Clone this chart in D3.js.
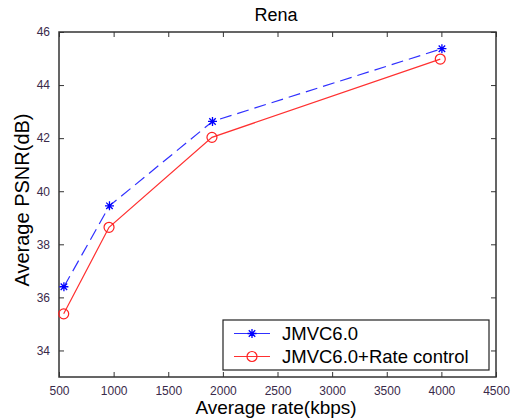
<!DOCTYPE html>
<html lang="en">
<head>
<meta charset="utf-8"/>
<script src="https://d3js.org/d3.v7.min.js"></script>
<style>
  body { margin: 0; background: #fff; }
  text { font-family: "Liberation Sans", Arial, sans-serif; }
</style>
</head>
<body>
<script>
    // Data
    var seriesNames = ["JMVC6.0", "JMVC6.0+Rate control"];
    var rateJMVC = [545, 962, 1905, 4005];
    var psnrJMVC = [36.4, 39.45, 42.63, 45.37];
    var rateRC = [543, 958, 1900, 3990];
    var psnrRC = [35.38, 38.64, 42.03, 44.98];
    var xTicks = [500, 1000, 1500, 2000, 2500, 3000, 3500, 4000, 4500];
    var yTicks = [34, 36, 38, 40, 42, 44, 46];

    var width = 516, height = 418;
    var margin = {top: 32, right: 20, bottom: 41, left: 59};

    var svg = d3.select("body").append("svg")
        .attr("width", width)
        .attr("height", height);

    var x = d3.scaleLinear().domain([500, 4500]).range([margin.left, width - margin.right]);
    var y = d3.scaleLinear().domain([33, 46]).range([height - margin.bottom, margin.top]);

    var axisColor = "#333";

    // box
    svg.append("rect")
        .attr("x", x(500)).attr("y", y(46))
        .attr("width", x(4500) - x(500)).attr("height", y(33) - y(46))
        .attr("fill", "#fff").attr("stroke", axisColor).attr("stroke-width", 1.5);

    // bottom axis with inward ticks
    var gx = svg.append("g")
        .attr("transform", "translate(0," + y(33) + ")")
        .call(d3.axisBottom(x).tickValues(xTicks).tickFormat(d3.format("d"))
            .tickSizeInner(-5).tickSizeOuter(0).tickPadding(9));
    gx.select(".domain").remove();
    gx.selectAll("line").attr("stroke", axisColor);
    gx.selectAll("text").attr("fill", "#3a2a4a").style("font-size", "12px");

    // top ticks
    var gxt = svg.append("g")
        .attr("transform", "translate(0," + y(46) + ")")
        .call(d3.axisTop(x).tickValues(xTicks).tickSizeInner(-5).tickSizeOuter(0).tickFormat(""));
    gxt.select(".domain").remove();
    gxt.selectAll("line").attr("stroke", axisColor);

    // left axis
    var gy = svg.append("g")
        .attr("transform", "translate(" + x(500) + ",0)")
        .call(d3.axisLeft(y).tickValues(yTicks).tickSizeInner(-5).tickSizeOuter(0).tickPadding(9));
    gy.select(".domain").remove();
    gy.selectAll("line").attr("stroke", axisColor);
    gy.selectAll("text").attr("fill", "#3a2a4a").style("font-size", "12px");

    // right ticks
    var gyr = svg.append("g")
        .attr("transform", "translate(" + x(4500) + ",0)")
        .call(d3.axisRight(y).tickValues(yTicks).tickSizeInner(-5).tickSizeOuter(0).tickFormat(""));
    gyr.select(".domain").remove();
    gyr.selectAll("line").attr("stroke", axisColor);

    // lines
    var line = d3.line().x(function(d) { return x(d[0]); }).y(function(d) { return y(d[1]); });
    var dataJMVC = d3.zip(rateJMVC, psnrJMVC);
    var dataRC = d3.zip(rateRC, psnrRC);

    svg.append("path").datum(dataJMVC)
        .attr("d", line).attr("fill", "none")
        .attr("stroke", "#3030ff").attr("stroke-width", 1.2)
        .attr("stroke-dasharray", "12,6");

    svg.append("path").datum(dataRC)
        .attr("d", line).attr("fill", "none")
        .attr("stroke", "#ff3030").attr("stroke-width", 1.2);

    // markers
    function star(g, cx, cy) {
        var r = 4.5, d = r * 0.72;
        g.append("path")
            .attr("d", "M" + (cx - r) + "," + cy + "h" + (2 * r) +
                       "M" + cx + "," + (cy - r) + "v" + (2 * r) +
                       "M" + (cx - d) + "," + (cy - d) + "l" + (2 * d) + "," + (2 * d) +
                       "M" + (cx - d) + "," + (cy + d) + "l" + (2 * d) + "," + (-2 * d))
            .attr("stroke", "#0000ff").attr("stroke-width", 1.3);
    }
    dataJMVC.forEach(function(d) { star(svg, x(d[0]), y(d[1])); });

    svg.selectAll("circle.rc").data(dataRC).enter().append("circle")
        .attr("class", "rc")
        .attr("cx", function(d) { return x(d[0]); })
        .attr("cy", function(d) { return y(d[1]); })
        .attr("r", 5)
        .attr("fill", "none").attr("stroke", "#ff2020").attr("stroke-width", 1.2);

    // title and axis labels
    svg.append("text").attr("x", 276).attr("y", 21)
        .attr("text-anchor", "middle").style("font-size", "18px").text("Rena");
    svg.append("text").attr("x", 276).attr("y", 414)
        .attr("text-anchor", "middle").style("font-size", "19px").text("Average rate(kbps)");
    svg.append("text")
        .attr("transform", "translate(29,200) rotate(-90)")
        .attr("text-anchor", "middle").style("font-size", "20px").text("Average PSNR(dB)");

    // legend
    var lg = svg.append("g");
    lg.append("rect").attr("x", 223).attr("y", 320).attr("width", 266).attr("height", 50)
        .attr("fill", "#fff").attr("stroke", "#222").attr("stroke-width", 1.2);
    var rows = [333.5, 356.5];
    lg.append("line").attr("x1", 234).attr("x2", 270).attr("y1", rows[0]).attr("y2", rows[0])
        .attr("stroke", "#3030ff").attr("stroke-width", 1.2);
    star(lg, 252, rows[0]);
    lg.append("line").attr("x1", 234).attr("x2", 270).attr("y1", rows[1]).attr("y2", rows[1])
        .attr("stroke", "#ff3030").attr("stroke-width", 1.2);
    lg.append("circle").attr("cx", 252).attr("cy", rows[1]).attr("r", 5)
        .attr("fill", "none").attr("stroke", "#ff2020").attr("stroke-width", 1.2);
    seriesNames.forEach(function(name, i) {
        lg.append("text").attr("x", 282).attr("y", rows[i] + 6.5)
            .style("font-size", "18.5px").text(name);
    });
</script>
</body>
</html>
